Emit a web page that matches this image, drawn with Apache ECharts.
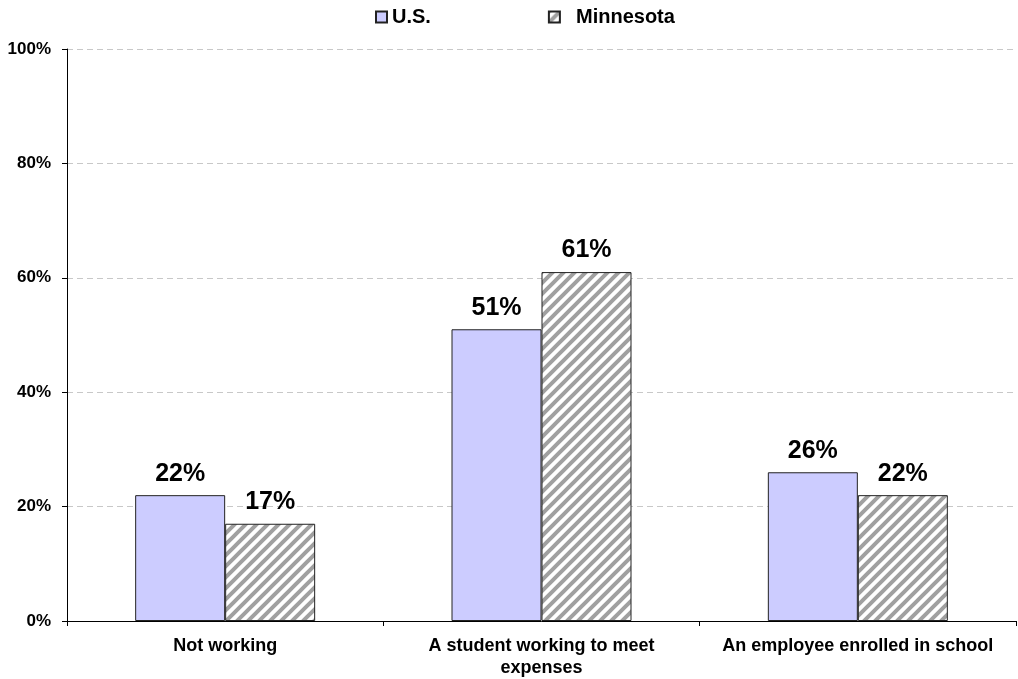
<!DOCTYPE html>
<html>
<head>
<meta charset="utf-8">
<script src="https://cdn.jsdelivr.net/npm/echarts@6/dist/echarts.min.js"></script>
<style>
  html, body { margin: 0; padding: 0; background: #fff; }
  #chart { width: 1018px; height: 679px; }
</style>
</head>
<body>
<div id="chart"></div>
<script>
// data
var categories = ["Not working", "A student working to meet\nexpenses", "An employee enrolled in school"];
var usValues = [22, 51, 26];
var mnValues = [17, 61, 22];
var seriesNames = ["U.S.", "Minnesota"];

// hatch pattern for Minnesota
function makeHatch() {
  var s = 11;
  var c = document.createElement("canvas");
  c.width = s;
  c.height = s;
  var ctx = c.getContext("2d");
  ctx.fillStyle = "#ffffff";
  ctx.fillRect(0, 0, s, s);
  ctx.strokeStyle = "#a0a0a0";
  ctx.lineWidth = 4;
  ctx.beginPath();
  ctx.moveTo(-s / 2, s / 2); ctx.lineTo(s / 2, -s / 2);
  ctx.moveTo(0, s); ctx.lineTo(s, 0);
  ctx.moveTo(s / 2, s * 1.5); ctx.lineTo(s * 1.5, s / 2);
  ctx.stroke();
  return c;
}
var hatch = makeHatch();
var font = "Liberation Sans, Arial, sans-serif";

var myChart = echarts.init(document.getElementById("chart"));
var labelStyle = {
  show: true,
  position: "top",
  distance: 9,
  formatter: "{c}%",
  fontFamily: font,
  fontWeight: "bold",
  fontSize: 25,
  color: "#000"
};

myChart.setOption({
  animation: false,
  legend: {
    left: 370,
    top: 2,
    icon: "rect",
    itemWidth: 11,
    itemHeight: 11,
    itemGap: 117,
    formatter: function (name) {
      return name === "Minnesota" ? "  " + name : name;
    },
    textStyle: {
      fontFamily: font,
      fontWeight: "bold",
      fontSize: 20,
      color: "#000"
    },
    data: seriesNames
  },
  grid: {
    left: 67,
    right: 2,
    top: 49,
    bottom: 58
  },
  xAxis: {
    type: "category",
    data: categories,
    axisLine: { lineStyle: { color: "#000", width: 1 } },
    axisTick: { show: true, interval: 0, length: 5, lineStyle: { color: "#000" } },
    axisLabel: {
      interval: 0,
      margin: 14,
      fontFamily: font,
      fontWeight: "bold",
      fontSize: 18,
      lineHeight: 22,
      color: "#000"
    }
  },
  yAxis: {
    type: "value",
    min: 0,
    max: 100,
    interval: 20,
    axisLine: { show: true, lineStyle: { color: "#000", width: 1 } },
    axisTick: { show: true, length: 5, lineStyle: { color: "#000" } },
    axisLabel: {
      formatter: "{value}%",
      margin: 16,
      fontFamily: font,
      fontWeight: "bold",
      fontSize: 17,
      color: "#000"
    },
    splitLine: {
      lineStyle: { color: "#c8c8c8", type: [6, 4] }
    }
  },
  series: [
    {
      name: seriesNames[0],
      type: "bar",
      data: usValues,
      barWidth: 90,
      barGap: "0%",
      itemStyle: { color: "#ccccff", borderColor: "#222", borderWidth: 1 },
      label: labelStyle
    },
    {
      name: seriesNames[1],
      type: "bar",
      data: mnValues,
      barWidth: 90,
      itemStyle: {
        color: { image: hatch, repeat: "repeat" },
        borderColor: "#222",
        borderWidth: 1
      },
      label: labelStyle
    }
  ]
});

window.addEventListener("resize", function () {
  myChart.resize();
});
</script>
</body>
</html>
